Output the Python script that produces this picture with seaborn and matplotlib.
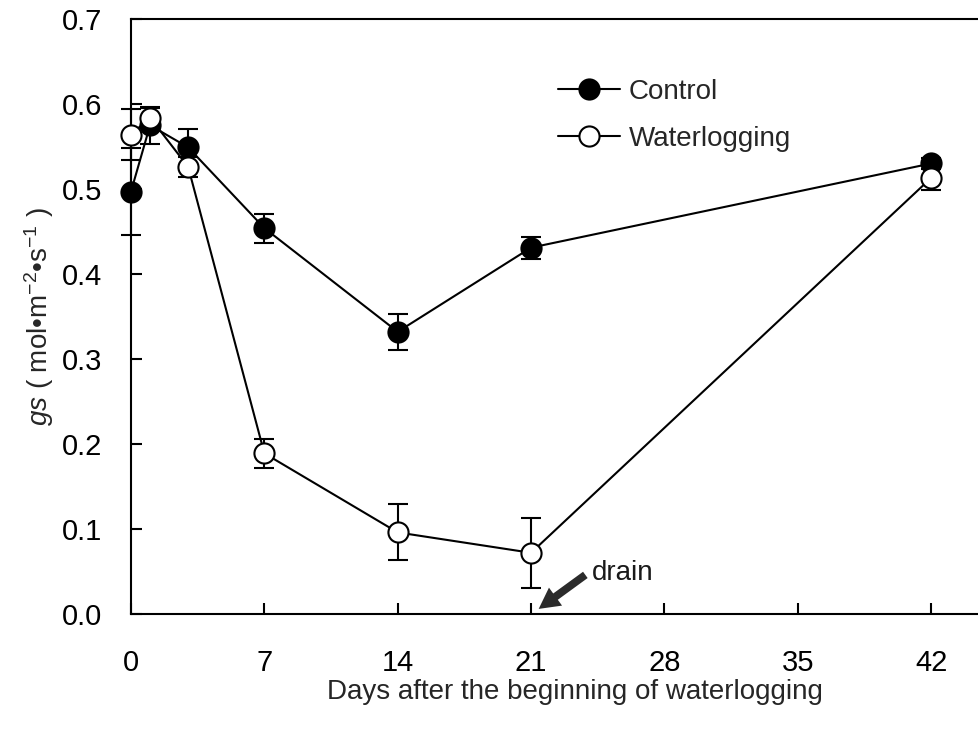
import numpy as np
import pandas as pd
import matplotlib
matplotlib.use("Agg")
import matplotlib.pyplot as plt
import seaborn as sns

# Stomatal conductance (gs) under control and waterlogging
days = [0, 1, 3, 7, 14, 21, 42]
control = [0.497, 0.575, 0.549, 0.454, 0.332, 0.431, 0.530]
control_se = [0.051, 0.022, 0.021, 0.017, 0.021, 0.013, 0.006]
waterlog = [0.564, 0.584, 0.526, 0.189, 0.096, 0.072, 0.513]
waterlog_se = [0.030, 0.011, 0.012, 0.017, 0.033, 0.041, 0.014]
x_ticks = [0, 7, 14, 21, 28, 35, 42]
y_ticks = [0.0, 0.1, 0.2, 0.3, 0.4, 0.5, 0.6, 0.7]

sns.set_style("white")
plt.rcParams["font.family"] = ["Liberation Sans", "DejaVu Sans"]
plt.rcParams["mathtext.fontset"] = "custom"
plt.rcParams["mathtext.rm"] = "Liberation Sans"
plt.rcParams["mathtext.it"] = "Liberation Sans:italic"

df = pd.DataFrame({
    "day": days * 2,
    "gs": control + waterlog,
    "treatment": ["Control"] * len(days) + ["Waterlogging"] * len(days),
})

fig = plt.figure(figsize=(9.79, 7.33), dpi=100)
ax = fig.add_axes([131 / 979, (733 - 614) / 733, 1 - 131 / 979, (614 - 19) / 733])

# error bars beneath the markers
for vals, errs in [(control, control_se), (waterlog, waterlog_se)]:
    eb = ax.errorbar(days, vals, yerr=errs, fmt="none", ecolor="black",
                     elinewidth=1.5, capsize=7, capthick=1.5, zorder=1.5)
    for art in eb.lines[1] + eb.lines[2]:
        art.set_clip_on(False)

common = dict(x="day", y="gs", ax=ax, color="black", linewidth=1.5,
              marker="o", markersize=14.5, markeredgecolor="black",
              markeredgewidth=1.5, zorder=3, estimator=None, clip_on=False)
sns.lineplot(data=df[df.treatment == "Control"], markerfacecolor="black",
             label="Control", **common)
sns.lineplot(data=df[df.treatment == "Waterlogging"], markerfacecolor="white",
             label="Waterlogging", **common)

ax.set_xlim(0, (979 - 131) / 19.05)
ax.set_ylim(0, 0.7)
ax.set_xticks(x_ticks)
ax.set_xticklabels([str(t) for t in x_ticks])
ax.set_yticks(y_ticks)
ax.set_yticklabels([f"{t:.1f}" for t in y_ticks])

for side in ["left", "bottom", "top"]:
    ax.spines[side].set_visible(True)
    ax.spines[side].set_color("black")
    ax.spines[side].set_linewidth(1.5)
ax.spines["right"].set_visible(False)

ax.tick_params(axis="both", direction="in", length=8, width=1.5,
               colors="black", labelsize=21)
ax.tick_params(axis="x", pad=25, bottom=True, top=False)
ax.tick_params(axis="y", pad=21, left=True, right=False)

ax.set_xlabel("Days after the beginning of waterlogging", fontsize=20)
ax.xaxis.set_label_coords(0.524, -0.110)
ax.set_ylabel(r"$\mathit{gs}$ ( mol•m$^{-2}$•s$^{-1}$ )", fontsize=20)
ax.yaxis.set_label_coords(-0.089, 0.50)

# drain marker
ax.annotate("", xy=(21.4, 0.006), xytext=(23.85, 0.046),
            arrowprops=dict(arrowstyle="simple,head_width=0.8,head_length=0.75,tail_width=0.28",
                            color="#2b2b2b", lw=0, mutation_scale=20,
                            shrinkA=0, shrinkB=0))
ax.text(24.2, 0.048, "drain", fontsize=20, va="center", ha="left", color="#1a1a1a")

leg = ax.legend(loc="upper left", bbox_to_anchor=(0.503, 0.899), frameon=False,
                fontsize=20, handlelength=2.25, handletextpad=0.3,
                labelspacing=0.74, borderpad=0, borderaxespad=0)

fig.savefig("out.png", dpi=100)
